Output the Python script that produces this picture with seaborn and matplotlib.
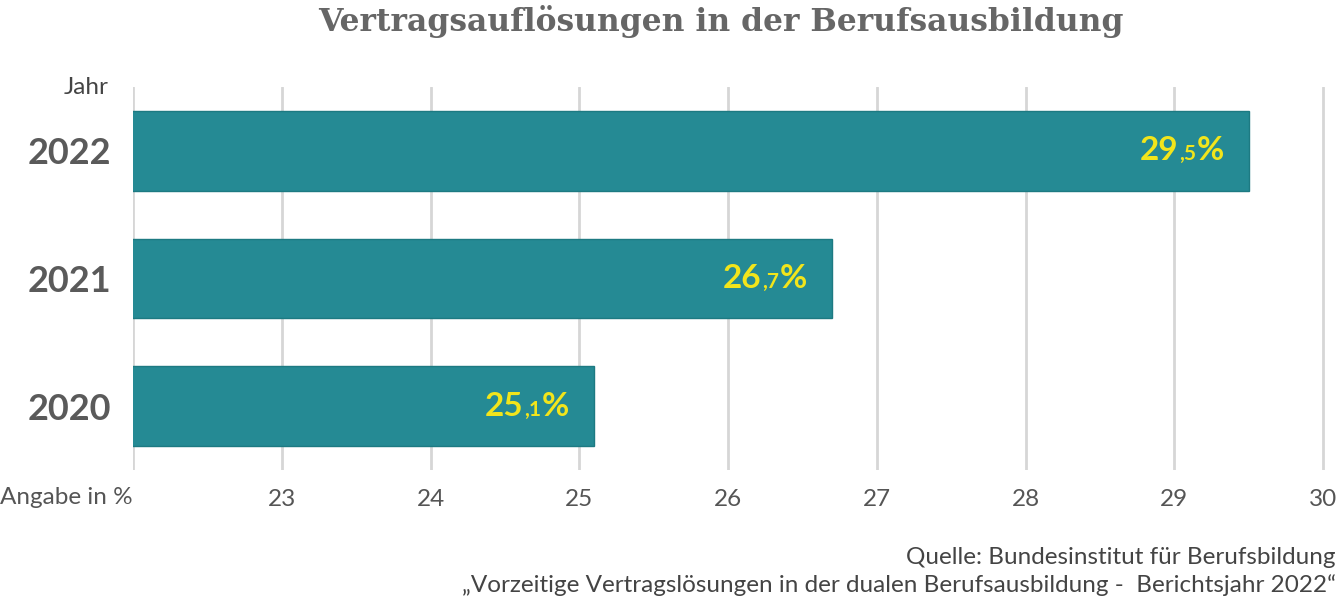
import numpy as np
import pandas as pd
import matplotlib
matplotlib.use("Agg")
import matplotlib.pyplot as plt
import seaborn as sns
from matplotlib.offsetbox import TextArea, HPacker, AnnotationBbox

# data
years = ["2022", "2021", "2020"]
rates = [29.5, 26.7, 25.1]
x_ticks = [22, 23, 24, 25, 26, 27, 28, 29, 30]
x_tick_labels = ["", "23", "24", "25", "26", "27", "28", "29", "30"]

title = "Vertragsauflösungen in der Berufsausbildung"
source_lines = ["Quelle: Bundesinstitut für Berufsbildung",
                "\u201eVorzeitige Vertragslösungen in der dualen Berufsausbildung -  Berichtsjahr 2022\u201c"]

bar_color = "#258a94"
label_color = "#f2e51b"

sns.set_style("white")
plt.rcParams["font.family"] = ["Lato", "DejaVu Sans"]

fig = plt.figure(figsize=(13.41, 6.01), dpi=100)
ax = fig.add_axes([0.0992, 0.218, 0.8896, 0.637])

df = pd.DataFrame({"Jahr": years, "Quote": rates})
sns.barplot(data=df, x="Quote", y="Jahr", order=years, orient="h",
            color=bar_color, saturation=1, width=0.625,
            edgecolor="#1d7a82", linewidth=1, ax=ax)

ax.set_xlim(22, 30.02)
ax.set_ylim(2.5, -0.5)
ax.set_xticks(x_ticks)
ax.set_xticklabels(x_tick_labels)
ax.grid(axis="x", color="#d6d6d6", linewidth=2)
ax.set_axisbelow(True)
for s in ax.spines.values():
    s.set_visible(False)
ax.tick_params(axis="both", length=0)
ax.tick_params(axis="x", labelsize=17.5, labelcolor="#555555", pad=14)
ax.tick_params(axis="y", pad=16)
for lbl in ax.get_yticklabels():
    lbl.set_fontsize(26)
    lbl.set_fontweight("bold")
    lbl.set_color("#5a5a5a")
ax.set_xlabel("")
ax.set_ylabel("")

# value labels with the smaller decimal part
for i, v in enumerate(rates):
    whole, dec = f"{v:.1f}".split(".")
    big = dict(color=label_color, fontsize=24, fontweight="bold")
    small = dict(color=label_color, fontsize=15, fontweight="bold")
    box = HPacker(children=[TextArea(whole, textprops=big),
                            TextArea("," + dec, textprops=small),
                            TextArea("%", textprops=big)],
                  align="baseline", pad=0, sep=0.5)
    ab = AnnotationBbox(box, (v, i), xybox=(-18, 0), boxcoords="offset points",
                        box_alignment=(1, 0.5), frameon=False)
    ax.add_artist(ab)

# axis captions
fig.text(0.081, 0.855, "Jahr", ha="right", va="center", fontsize=17.5, color="#444444")
fig.text(0.0992, 0.172, "Angabe in %", ha="right", va="center", fontsize=17.5, color="#555555")

fig.text(0.5375, 0.965, title, ha="center", va="center", fontsize=22.6,
         fontweight="bold", color="#666666", family="DejaVu Serif")

fig.text(0.996, 0.072, source_lines[0], ha="right", va="center", fontsize=17.5, color="#444444")
fig.text(0.996, 0.026, source_lines[1], ha="right", va="center", fontsize=17.5, color="#444444")

fig.savefig("out.png", dpi=100)
